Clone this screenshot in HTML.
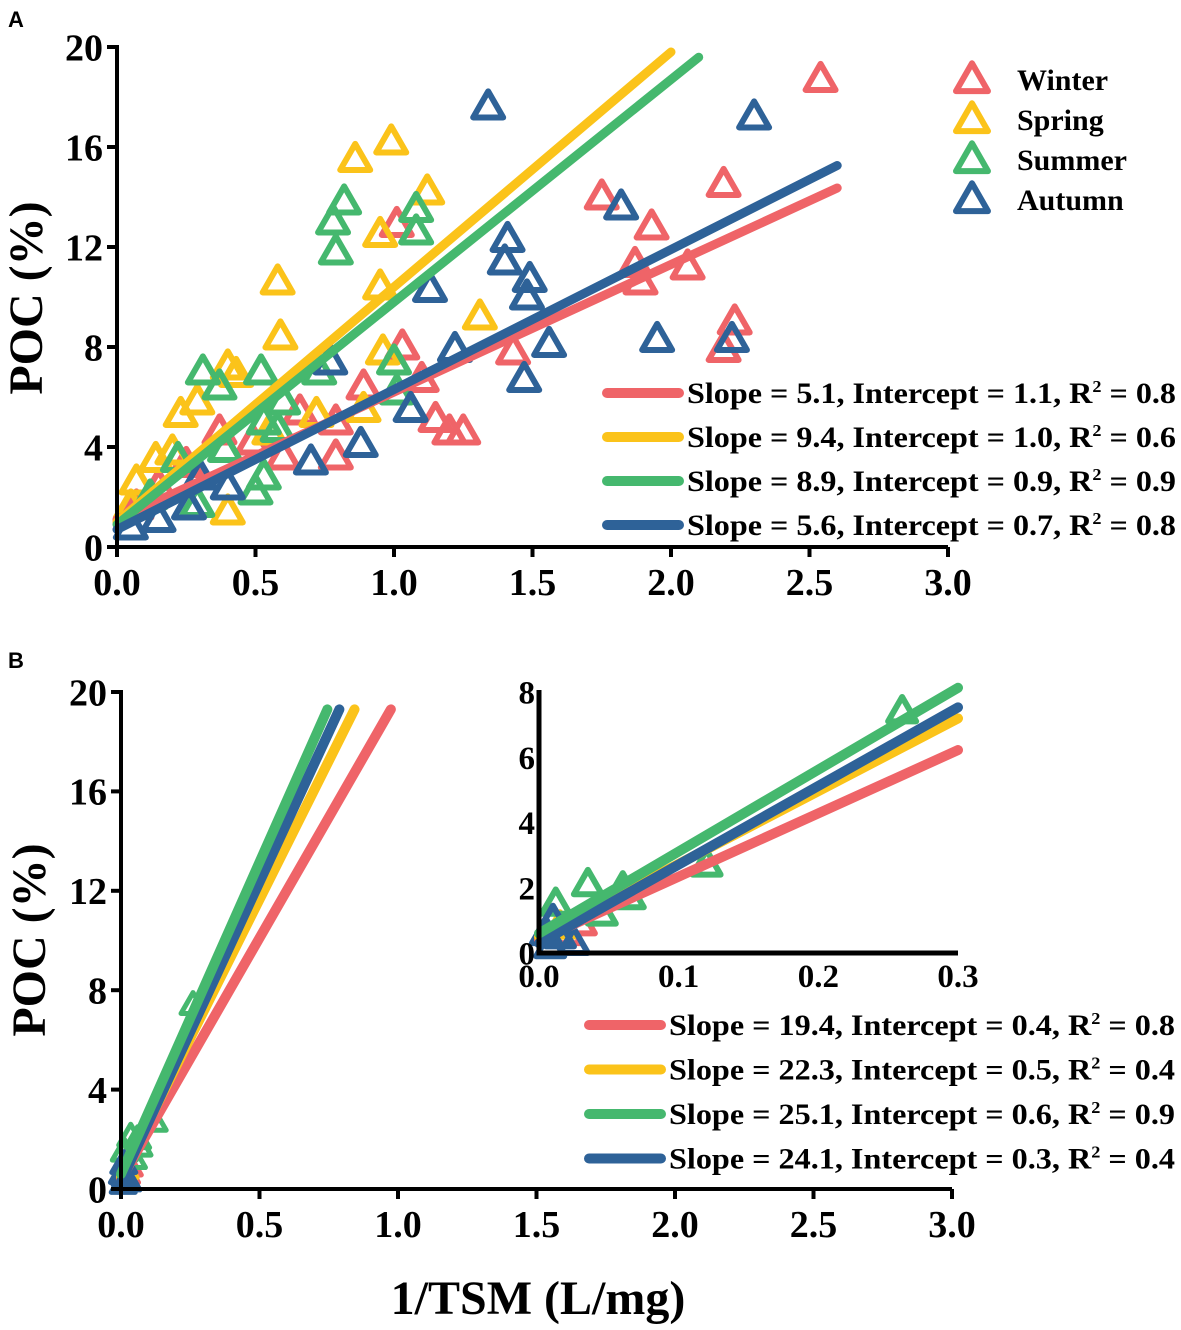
<!DOCTYPE html>
<html><head><meta charset="utf-8"><style>
html,body{margin:0;padding:0;background:#fff;}
svg{display:block;}
svg text{font-family:"Liberation Serif","Times New Roman",serif;font-weight:bold;fill:#000;}
</style></head><body>
<svg id="chart" width="1181" height="1330" viewBox="0 0 1181 1330" xmlns="http://www.w3.org/2000/svg" font-family="Liberation Serif, serif" font-weight="bold">
<text x="8" y="27" font-family="Liberation Sans, sans-serif" style="font-family:'Liberation Sans',sans-serif;font-size:22px">A</text>
<text x="8" y="668" font-family="Liberation Sans, sans-serif" style="font-family:'Liberation Sans',sans-serif;font-size:22px">B</text>
<text transform="translate(42,298) rotate(-90)" text-anchor="middle" font-family="Liberation Serif, serif" style="font-size:48px">POC (%)</text>
<text transform="translate(45,940) rotate(-90)" text-anchor="middle" font-family="Liberation Serif, serif" style="font-size:48px">POC (%)</text>
<text x="538" y="1314" text-anchor="middle" font-family="Liberation Serif, serif" style="font-size:48px">1/TSM (L/mg)</text>
<g id="gA"></g><g id="gB"></g><g id="gI"></g><g id="leg"></g>
</svg>
<script>
const seasons = ["Winter","Spring","Summer","Autumn"];
const colors = ["#EF6468","#FBC31A","#45B86E","#2E6298"];
const slopesA = [5.1, 9.4, 8.9, 5.6];
const interceptsA = [1.1, 1.0, 0.9, 0.7];
const r2A = ["0.8","0.6","0.9","0.8"];
const lineEndA = [2.6, 2.0, 2.1, 2.6];
const slopesB = [19.4, 22.3, 25.1, 24.1];
const interceptsB = [0.4, 0.5, 0.6, 0.3];
const r2B = ["0.8","0.4","0.9","0.4"];
const xTicks = [0,0.5,1.0,1.5,2.0,2.5,3.0];
const xTickLabels = ["0.0","0.5","1.0","1.5","2.0","2.5","3.0"];
const yTicks = [0,4,8,12,16,20];
const insetXTicks = [0,0.1,0.2,0.3];
const insetXLabels = ["0.0","0.1","0.2","0.3"];
const insetYTicks = [0,2,4,6,8];
// Panel A points
const winterX = [2.54,1.75,1.93,2.19,1.87,1.89,2.06,2.23,2.19,1.01,1.03,0.89,1.1,1.15,1.2,1.25,0.79,0.79,0.6,0.66,0.49,0.37,1.43,0.25,0.15,0.07];
const winterY = [18.7,14.0,12.8,14.5,11.3,10.6,11.2,9.0,7.9,12.9,8.0,6.4,6.7,5.1,4.6,4.6,3.6,5.0,3.6,5.4,4.2,4.6,7.8,3.3,2.4,1.6];
const springX = [0.99,0.86,1.12,0.95,0.58,0.59,0.95,1.31,0.96,0.4,0.43,0.29,0.23,0.14,0.2,0.07,0.72,0.89,0.4,0.55,0.05];
const springY = [16.2,15.5,14.2,12.5,10.6,8.4,10.4,9.2,7.8,7.2,6.9,5.8,5.3,3.5,3.8,2.6,5.3,5.5,1.4,4.6,1.6];
const summerX = [0.82,0.78,1.08,1.08,0.79,0.31,0.37,0.52,1.0,0.73,0.6,0.53,0.5,0.53,0.39,0.29,0.22,0.58,1.01,0.12];
const summerY = [13.8,13.0,13.5,12.6,11.8,7.0,6.4,7.0,7.4,7.0,5.8,5.0,2.2,2.8,3.9,1.7,3.5,4.7,6.2,2.0];
const autumnX = [1.34,2.3,1.82,1.41,1.4,1.49,1.48,1.13,1.56,1.95,2.22,1.47,1.22,1.06,0.88,0.7,0.77,0.4,0.26,0.15,0.05,0.3];
const autumnY = [17.6,17.2,13.6,12.3,11.4,10.7,10.0,10.3,8.1,8.3,8.3,6.7,7.9,5.5,4.1,3.4,7.4,2.4,1.6,1.1,0.8,2.8];
// Panel B points
const winterBX = [0.02,0.03];
const winterBY = [0.6,0.9];
const springBX = [0.015];
const springBY = [0.8];
const summerBX = [0.26,0.012,0.035,0.06,0.12,0.045,0.065];
const summerBY = [7.4,1.5,2.1,2.0,2.7,1.2,1.7];
const autumnBX = [0.01,0.015,0.025,0.008,0.005];
const autumnBY = [1.0,0.5,0.3,0.2,0.6];

const NS="http://www.w3.org/2000/svg";
function mk(tag,attrs,parent){const e=document.createElementNS(NS,tag);for(const k in attrs)e.setAttribute(k,attrs[k]);parent.appendChild(e);return e;}
function axis(x0,x1,y0,y1,xmin,xmax,ymin,ymax){
  return {x:v=>x0+(v-xmin)/(xmax-xmin)*(x1-x0), y:v=>y0-(v-ymin)/(ymax-ymin)*(y0-y1)};
}
function tri(g,cx,cy,s,col,sw){
  const h=s*0.87;
  const p=mk('polygon',{points:`${cx},${cy-h*0.6} ${cx+s/2},${cy+h*0.4} ${cx-s/2},${cy+h*0.4}`,fill:'none',stroke:col,'stroke-width':sw,'stroke-linejoin':'round'},g);
  
  
}
function drawAxes(g,ax,x0,x1,y0,y1,xt,xl,yt,fs,lw,tickLen,xLabOff){
  const a=mk('path',{d:`M${x0},${y1-2} V${y0} H${x1}`,fill:'none',stroke:'#000','stroke-width':lw},g);
  
  
  xt.forEach((v,i)=>{const x=ax.x(v);mk('line',{x1:x,x2:x,y1:y0,y2:y0+tickLen,stroke:'#000','stroke-width':lw},g);
    const t=mk('text',{x:x,y:y0+xLabOff,'text-anchor':'middle','font-size':fs,'font-family':'Liberation Serif, serif','font-weight':'bold'},g);t.textContent=xl[i];
    
    });
  yt.forEach(v=>{const y=ax.y(v);mk('line',{x1:x0-tickLen,x2:x0,y1:y,y2:y,stroke:'#000','stroke-width':lw},g);
    const t=mk('text',{x:x0-(tickLen+4),y:y+fs*0.35,'text-anchor':'end','font-size':fs,'font-family':'Liberation Serif, serif','font-weight':'bold'},g);t.textContent=v;
    
    });
}
function drawLine(g,ax,m,b,x0,x1,col,w){
  const l=mk('line',{x1:ax.x(x0),y1:ax.y(m*x0+b),x2:ax.x(x1),y2:ax.y(m*x1+b),stroke:col,'stroke-width':w,'stroke-linecap':'round'},g);
  
  
}
// Panel A
const gA=document.getElementById('gA');
const axA=axis(117,948,547,47,0,3,0,20);
const ptsA=[[winterX,winterY],[springX,springY],[summerX,summerY],[autumnX,autumnY]];
ptsA.forEach((p,s)=>p[0].forEach((x,i)=>tri(gA,axA.x(x),axA.y(p[1][i]),30,colors[s],6)));
for(let s=0;s<4;s++) drawLine(gA,axA,slopesA[s],interceptsA[s],0,lineEndA[s],colors[s],9);
drawAxes(gA,axA,117,948,547,47,xTicks,xTickLabels,yTicks,38,4,10,48);
// Panel B main
const gB=document.getElementById('gB');
const axB=axis(121,952,1189,692,0,3,0,20);
const ptsB=[[winterBX,winterBY],[springBX,springBY],[summerBX,summerBY],[autumnBX,autumnBY]];
ptsB.forEach((p,s)=>p[0].forEach((x,i)=>tri(gB,axB.x(x),axB.y(p[1][i]),24,colors[s],5)));
[0,1,3,2].forEach(s=>{const xe=(19.3-interceptsB[s])/slopesB[s];drawLine(gB,axB,slopesB[s],interceptsB[s],0,xe,colors[s],10);});
drawAxes(gB,axB,121,952,1189,692,xTicks,xTickLabels,yTicks,38,4,10,48);
// Inset
const gI=document.getElementById('gI');
const axI=axis(539,958,953,692,0,0.3,0,8);
ptsB.forEach((p,s)=>p[0].forEach((x,i)=>tri(gI,axI.x(x),axI.y(p[1][i]),28,colors[s],6)));
[0,1,3,2].forEach(s=>drawLine(gI,axI,slopesB[s],interceptsB[s],0,0.3,colors[s],10));
drawAxes(gI,axI,539,958,953,692,insetXTicks,insetXLabels,insetYTicks,33,5,0,34);
// Legends
const leg=document.getElementById('leg');
seasons.forEach((n,s)=>{const y=80+s*40;tri(leg,972,y,32,colors[s],6);
  const t=mk('text',{x:1017,y:y+10,'font-size':30,'font-family':'Liberation Serif, serif','font-weight':'bold'},leg);t.textContent=n;
  
  });
function regLeg(x0,x1,ty,sl,ic,r2,i,tl){
  const l=mk('line',{x1:x0+5,x2:x1-5,y1:ty,y2:ty,stroke:colors[i],'stroke-width':10,'stroke-linecap':'round'},leg);
  
  
  const t=mk('text',{x:x1+3,y:ty+10,'font-size':30,textLength:tl,lengthAdjust:'spacingAndGlyphs','font-family':'Liberation Serif, serif','font-weight':'bold'},leg);
  t.innerHTML=`Slope = ${sl.toFixed(1)}, Intercept = ${ic.toFixed(1)}, R<tspan dy="-11" font-size="17">2</tspan><tspan dy="11"> = ${r2}</tspan>`;
  
  
}
for(let s=0;s<4;s++) regLeg(602,684,393+s*44,slopesA[s],interceptsA[s],r2A[s],s,489);
for(let s=0;s<4;s++) regLeg(584,666,1025+s*44.5,slopesB[s],interceptsB[s],r2B[s],s,506);
</script>
</body></html>
